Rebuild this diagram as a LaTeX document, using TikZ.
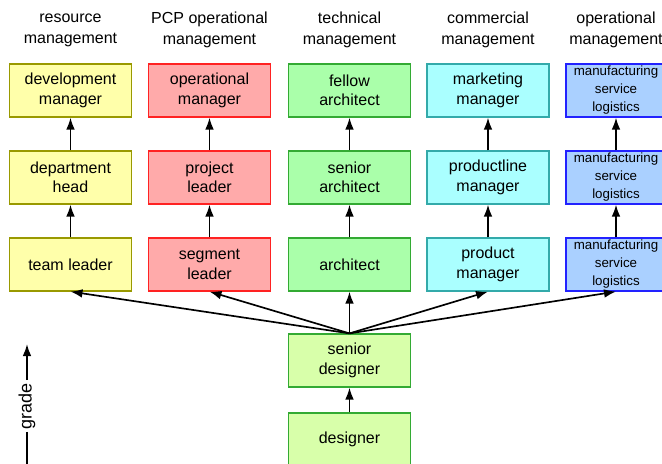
\documentclass[tikz,border=0pt]{standalone}
\usepackage{fontspec}
\setmainfont{Liberation Sans}
\usetikzlibrary{arrows.meta}
\definecolor{yfill}{HTML}{FFFFAA}\definecolor{ydraw}{HTML}{999900}
\definecolor{rfill}{HTML}{FFAAAA}\definecolor{rdraw}{HTML}{FF2222}
\definecolor{gfill}{HTML}{AAFFAA}\definecolor{gdraw}{HTML}{33AA33}
\definecolor{cfill}{HTML}{AAFFFF}\definecolor{cdraw}{HTML}{33AAAA}
\definecolor{bfill}{HTML}{AAD0FF}\definecolor{bdraw}{HTML}{2222FF}
\definecolor{dfill}{HTML}{D8FFAA}
\tikzset{
  box/.style={draw, line width=0.9pt, minimum width=91.5pt, minimum height=39.75pt, align=center, inner sep=1pt, font=\fontsize{12}{14.5}\selectfont},
  ybox/.style={box, fill=yfill, draw=ydraw},
  rbox/.style={box, fill=rfill, draw=rdraw},
  gbox/.style={box, fill=gfill, draw=gdraw},
  cbox/.style={box, fill=cfill, draw=cdraw},
  bbox/.style={box, fill=bfill, draw=bdraw, minimum width=75pt, font=\fontsize{10}{13.5}\selectfont},
  dbox/.style={box, fill=dfill, draw=gdraw},
  head/.style={align=center, font=\fontsize{12}{15.75}\selectfont},
  arr/.style={line width=1.25pt, -{Latex[length=9pt,width=6.5pt]}},
}
\begin{document}
\begin{tikzpicture}[x=0.75pt,y=-0.75pt]
\path[use as bounding box] (0,0) rectangle (662,464);
\begin{scope}
\clip (0,0) rectangle (662,464);
% headers
\node[head] (h1) at (70.5,30) {resource\\management};
\node[head] (h2) at (209.5,30) {PCP operational\\management};
\node[head] (h3) at (349.5,30) {technical\\management};
\node[head] (h4) at (488,30) {commercial\\management};
\node[head] (h5) at (616,30) {operational\\management};
% column 1
\node[ybox] (a1) at (70.5,90.5) {development\\manager};
\node[ybox] (a2) at (70.5,177.5) {department\\head};
\node[ybox] (a3) at (70.5,264.5) {team leader};
% column 2
\node[rbox] (b1) at (209.5,90.5) {operational\\manager};
\node[rbox] (b2) at (209.5,177.5) {project\\leader};
\node[rbox] (b3) at (209.5,264.5) {segment\\leader};
% column 3
\node[gbox] (c1) at (349.5,90.5) {fellow\\architect};
\node[gbox] (c2) at (349.5,177.5) {senior\\architect};
\node[gbox] (c3) at (349.5,264.5) {architect};
% column 4
\node[cbox] (d1) at (488,90.5) {marketing\\manager};
\node[cbox] (d2) at (488,177.5) {productline\\manager};
\node[cbox] (d3) at (488,264.5) {product\\manager};
% column 5
\node[bbox] (e1) at (616,90.5) {manufacturing\\service\\logistics};
\node[bbox] (e2) at (616,177.5) {manufacturing\\service\\logistics};
\node[bbox] (e3) at (616,264.5) {manufacturing\\service\\logistics};
% designers
\node[dbox] (sd) at (349.5,360.5) {senior\\designer};
\node[dbox] (ds) at (349.5,439.5) {designer};
% vertical arrows
\foreach \c in {a,b,c,d,e}{
  \draw[arr] (\c3.north) -- (\c2.south);
  \draw[arr] (\c2.north) -- (\c1.south);
}
\draw[arr] (ds.north) -- (sd.south);
\foreach \c in {a,b,c,d,e}{
  \draw[arr] (sd.north) -- (\c3.south);
}
% grade axis
\node[rotate=90, font=\fontsize{13.5}{15}\selectfont, inner sep=2pt] (grade) at (27,406) {grade};
\coordinate (gtop) at (27,344);
\coordinate (gbot) at (27,470);
\draw[arr] (grade.east) -- (gtop);
\draw[line width=1.25pt] (grade.west) -- (gbot);
\end{scope}
\end{tikzpicture}
\end{document}
